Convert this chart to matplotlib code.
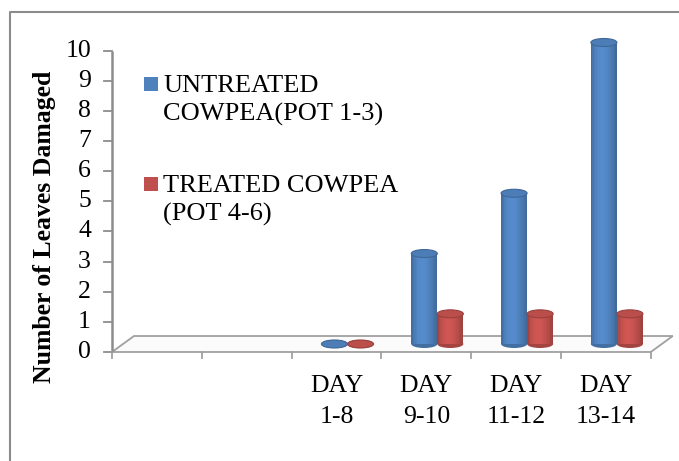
import numpy as np
import matplotlib
matplotlib.use("Agg")
import matplotlib.pyplot as plt
from matplotlib.patches import Ellipse, Polygon, Rectangle
from matplotlib.lines import Line2D
from matplotlib.colors import to_rgb

plt.rcParams['font.family'] = ['Liberation Serif', 'DejaVu Serif']

# Data
categories = ['', '', 'DAY\n1-8', 'DAY\n9-10', 'DAY\n11-12', 'DAY\n13-14']
untreated = [np.nan, np.nan, 0, 3, 5, 10]
treated = [np.nan, np.nan, 0, 1, 1, 1]
series_names = ['UNTREATED\nCOWPEA(POT 1-3)', 'TREATED COWPEA\n(POT 4-6)']
series_colors = ['#4F81BD', '#C0504D']
yticks = list(range(0, 11))

# figure in pixel-like data space: x in category units, y in value units
W, H = 679, 461
fig = plt.figure(figsize=(W / 100, H / 100), dpi=100)
ax = fig.add_axes([0, 0, 1, 1])
x0_px, y0_px = 112, 352          # origin of the plot (front-left corner of floor)
cat_px, unit_px = 89.8, 30.15    # pixel size of one category / one unit
ax.set_xlim(-x0_px / cat_px, (W - x0_px) / cat_px)
ax.set_ylim((y0_px - H) / unit_px, y0_px / unit_px)
ax.axis('off')

n = len(categories)
depth_dx, depth_dy = 22 / cat_px, 16 / unit_px
grid_col = '#A0A0A0'

# floor
floor = Polygon([(0, 0), (n, 0), (n + depth_dx, depth_dy), (depth_dx, depth_dy)],
                closed=True, facecolor='#FBFBFB', edgecolor=grid_col, lw=1.3, zorder=1)
ax.add_patch(floor)

# value axis
ax.plot([0, 0], [0, yticks[-1]], color='#8C8C8C', lw=1.8, zorder=2, solid_capstyle='butt')
tick_len = 8 / cat_px
for t in yticks:
    ax.plot([-tick_len, 0], [t, t], color='#8C8C8C', lw=1.3, zorder=2)
    ax.text(-21 / cat_px, t, str(t), ha='right', va='center', fontsize=18.5)

# category axis ticks and labels
for i in range(n + 1):
    ax.plot([i, i], [0, -6 / unit_px], color=grid_col, lw=1.3, zorder=2)
for i, lab in enumerate(categories):
    for k, line in enumerate(lab.split('\n')):
        ax.text(i + 0.5, (y0_px - 392 - 31 * k) / unit_px, line,
                ha='center', va='baseline', fontsize=18.5)

# cylinders
bar_w = 0.29
ell_h = 8 / unit_px
base = depth_dy / 2


def shade(color, f):
    r, g, b = to_rgb(color)
    return (min(r * f, 1), min(g * f, 1), min(b * f, 1))


def cylinder(xc, v, color):
    nstrip = 18
    sw = bar_w / nstrip
    ax.add_patch(Ellipse((xc, base), bar_w, ell_h, facecolor=shade(color, 0.85),
                         edgecolor='none', zorder=3))
    if v > 0:
        for s in range(nstrip):
            t = (s + 0.5) / nstrip
            f = 0.8 + 0.28 * np.sin(np.pi * t ** 0.8)
            ax.bar(xc - bar_w / 2 + s * sw, v, width=sw * 1.05, bottom=base,
                   align='edge', color=shade(color, f), lw=0, zorder=3)
    ax.add_patch(Ellipse((xc, base + v), bar_w, ell_h, facecolor=shade(color, 0.97),
                         edgecolor=shade(color, 0.8), lw=0.8, zorder=4))


for i in range(n):
    c = i + 0.5 + depth_dx / 2
    if not np.isnan(untreated[i]):
        cylinder(c - bar_w / 2, untreated[i], series_colors[0])
    if not np.isnan(treated[i]):
        cylinder(c + bar_w / 2, treated[i], series_colors[1])

# axis title
ax.text(-67 / cat_px, (y0_px - 227) / unit_px, 'Number of Leaves Damaged', rotation=90,
        ha='center', va='center', fontsize=18.5, fontweight='bold')

# legend
leg_x_px = 144
leg_rows = [(84, [92, 121]), (184, [192, 221])]
for (sq_y, baselines), name, col in zip(leg_rows, series_names, series_colors):
    ax.add_patch(Rectangle(((leg_x_px - x0_px) / cat_px, (y0_px - sq_y - 7) / unit_px),
                           14 / cat_px, 14 / unit_px, facecolor=col, edgecolor='none'))
    for line, bl in zip(name.split('\n'), baselines):
        ax.text((163 - x0_px) / cat_px, (y0_px - bl) / unit_px, line,
                ha='left', va='baseline', fontsize=19)

# outer frame (open at right/bottom, as cropped)
fig.add_artist(Line2D([10 / W, 10 / W, 1], [0, 1 - 12 / H, 1 - 12 / H],
                      color='#8C8C8C', lw=1.5))

fig.savefig('out.png', dpi=100)
